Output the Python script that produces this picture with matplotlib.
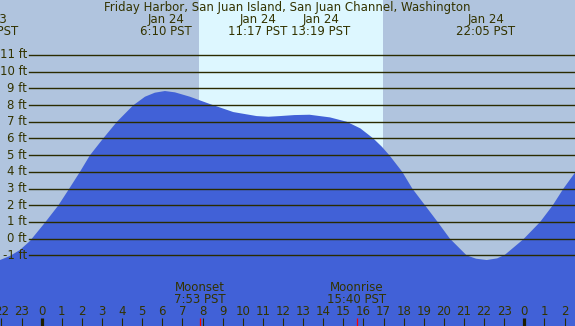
'''
Tide chart - Friday Harbor
'''

# Imports
import matplotlib
matplotlib.use("Agg")
import matplotlib.pyplot as plt
import matplotlib.transforms as mtransforms


# Data (hours from midnight Jan 24, height in ft)
tide_hours = [-2.07, -1.58, -1.08, -0.58, 0.16, 0.83, 1.37, 1.90, 2.40, 3.06,
              3.76, 4.55, 5.14, 5.63, 6.13, 6.63, 7.37, 8.37, 9.53, 10.69,
              11.28, 11.85, 12.57, 13.32, 14.34, 15.17, 15.85, 16.49, 16.92,
              17.32, 17.93, 18.43, 19.06, 19.69, 20.30, 21.13, 21.60, 22.13,
              22.65, 23.04, 23.95, 24.78, 25.41, 25.94, 26.52]
tide_feet = [-1.28, -1.04, -0.68, -0.14, 0.95, 1.99, 2.99, 3.99, 4.99, 6.00,
             7.02, 7.98, 8.50, 8.74, 8.84, 8.76, 8.50, 8.06, 7.58, 7.34,
             7.30, 7.34, 7.40, 7.42, 7.26, 7.00, 6.60, 6.00, 5.50,
             4.95, 4.00, 3.00, 2.00, 1.00, 0.00, -1.00, -1.20, -1.28,
             -1.18, -0.96, -0.04, 0.99, 1.99, 2.99, 3.95]

event_times = [-2.62, 6.167, 11.283, 13.317, 22.083]
event_dates = ["Jan 23", "Jan 24", "Jan 24", "Jan 24", "Jan 24"]
event_clock = ["21:23 PST", "6:10 PST", "11:17 PST", "13:19 PST", "22:05 PST"]

sunrise = 7.82
sunset = 16.97
moon_times = [7.883, 15.667]
moon_names = ["Moonset", "Moonrise"]
moon_clock = ["7:53 PST", "15:40 PST"]

grid_feet = list(range(-1, 12))
hour_ticks = list(range(-2, 27))

title = "Friday Harbor, San Juan Island, San Juan Channel, Washington"

# Style
night_col = "#b0c4de"
day_col = "#ddf7ff"
water_col = "#4161d7"
line_col = "#2b2b00"
text_col = "#333300"
fs = 8.5

W, H = 575, 326
x_left, x_right = -2.07, 26.52
y_bot, y_top = -5.23, 14.29
px_per_hr = W / (x_right - x_left)

# labels that would collide get pushed apart (pixels)
label_shift = [0, 0, -10.5, 11.3, 0]

fig = plt.figure(figsize=(W / 100, H / 100), dpi=100)
ax = fig.add_axes([0, 0, 1, 1])
ax.set_xlim(x_left, x_right)
ax.set_ylim(y_bot, y_top)
ax.axis("off")
fig.patch.set_facecolor(night_col)
bg = plt.Rectangle((0, 0), 1, 1, transform=ax.transAxes, color=night_col, zorder=0)
ax.add_patch(bg)

trans = mtransforms.blended_transform_factory(ax.transData, ax.transAxes)
trans_y = mtransforms.blended_transform_factory(ax.transAxes, ax.transData)

# daylight
ax.axvspan(sunrise, sunset, color=day_col, lw=0, zorder=1)

# tide
ax.fill_between(tide_hours, tide_feet, y_bot, color=water_col, lw=0, zorder=2)

# grid lines + labels
for f in grid_feet:
    ax.axhline(f, xmin=29 / W, xmax=1, color=line_col, lw=1.0, zorder=3)
    ax.text(27 / W, f, "%d ft" % f, transform=trans_y,
            ha="right", va="center", fontsize=fs, color=text_col, zorder=4)

# hour ticks
for h in hour_ticks:
    ax.text(h, 1 - 311.7 / H, str(h % 24), transform=trans, ha="center", va="center",
            fontsize=fs, color=text_col, zorder=4)
    if h % 24 == 0:
        ax.vlines(h, 0, 8 / H, transform=trans, color="#1e1e00", lw=2.3, zorder=4)
    else:
        ax.vlines(h, 0, 8 / H, transform=trans, color=line_col, lw=0.8, zorder=4)

# moon
for t, nm, ck in zip(moon_times, moon_names, moon_clock):
    ax.vlines(t, 0, 8 / H, transform=trans, color="red", lw=0.9, zorder=5)
    ax.text(t, 1 - 287.3 / H, nm, transform=trans, ha="center", va="center",
            fontsize=fs, color=text_col, zorder=4)
    ax.text(t, 1 - 299.3 / H, ck, transform=trans, ha="center", va="center",
            fontsize=fs, color=text_col, zorder=4)

# tide events
for t, d, ck, dx in zip(event_times, event_dates, event_clock, label_shift):
    x = t + dx / px_per_hr
    ax.text(x, 1 - 20.0 / H, d, transform=trans, ha="center", va="center",
            fontsize=fs, color=text_col, zorder=4)
    ax.text(x, 1 - 31.7 / H, ck, transform=trans, ha="center", va="center",
            fontsize=fs, color=text_col, zorder=4)

ax.text(0.5, 1 - 7.3 / H, title, transform=ax.transAxes, ha="center", va="center",
        fontsize=fs, color=text_col, zorder=4)

fig.savefig("out.png", dpi=100, facecolor=night_col)
